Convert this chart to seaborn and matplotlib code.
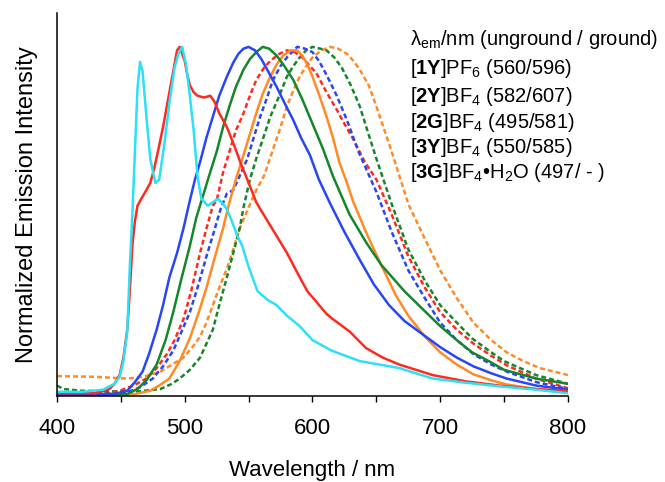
import matplotlib
matplotlib.use("Agg")
import matplotlib.pyplot as plt
import seaborn as sns

# ---------------------------------------------------------------- data ----
# unground (solid) and ground (dashed) emission spectra, normalized

wl_3G = [400, 420, 436, 445, 449, 452, 455, 457, 459, 461, 463, 465, 467, 470, 473,
         477, 480, 484, 488, 492, 495, 498, 501, 504, 507, 510, 513, 518, 522, 526,
         530, 533, 537, 541, 545, 550, 557, 565, 572, 580, 590, 600, 615, 637, 668,
         694, 720, 746, 775, 800]
em_3G = [0.012, 0.012, 0.018, 0.035, 0.055, 0.10, 0.185, 0.37, 0.52, 0.70, 0.88, 0.957,
         0.93, 0.80, 0.68, 0.61, 0.62, 0.72, 0.84, 0.94, 0.98, 1.0, 0.95, 0.86, 0.76,
         0.63, 0.565, 0.545, 0.555, 0.565, 0.55, 0.535, 0.50, 0.46, 0.43, 0.37, 0.30,
         0.275, 0.26, 0.23, 0.20, 0.16, 0.13, 0.10, 0.08, 0.05, 0.038, 0.028, 0.018, 0.008]

wl_2G = [400, 430, 441, 445, 449, 452, 455, 457, 459, 461, 463, 466, 470, 473, 476,
         479, 483, 487, 491, 494, 496, 498, 500, 502, 504, 507, 510, 515, 520, 523,
         527, 533, 539, 544, 549, 556, 560, 570, 580, 590, 596, 603, 611, 616, 629,
         642, 655, 668, 694, 720, 746, 775, 800]
em_2G = [0.008, 0.008, 0.02, 0.035, 0.06, 0.11, 0.19, 0.30, 0.43, 0.50, 0.545, 0.565,
         0.59, 0.61, 0.65, 0.70, 0.77, 0.85, 0.93, 0.99, 1.0, 0.98, 0.96, 0.92, 0.89,
         0.87, 0.86, 0.855, 0.86, 0.845, 0.81, 0.77, 0.715, 0.665, 0.62, 0.555, 0.53,
         0.47, 0.41, 0.34, 0.30, 0.27, 0.235, 0.22, 0.185, 0.137, 0.11, 0.09, 0.06,
         0.042, 0.03, 0.02, 0.014]

wl_3Y = [400, 445, 455, 461, 467, 472, 478, 483, 488, 494, 499, 504, 508, 512, 517,
         522, 527, 533, 538, 542, 546, 550, 555, 560, 566, 572, 578, 585, 591, 598,
         605, 614, 625, 637, 648, 660, 672, 685, 700, 713, 726, 740, 752, 775, 800]
em_3Y = [0.005, 0.006, 0.015, 0.04, 0.07, 0.12, 0.19, 0.26, 0.34, 0.41, 0.48, 0.56,
         0.62, 0.67, 0.74, 0.80, 0.86, 0.915, 0.955, 0.98, 0.995, 1.0, 0.99, 0.965,
         0.925, 0.885, 0.84, 0.79, 0.74, 0.69, 0.62, 0.55, 0.47, 0.39, 0.32, 0.26,
         0.215, 0.18, 0.14, 0.11, 0.085, 0.065, 0.05, 0.03, 0.018]

wl_1Y = [400, 455, 463, 470, 478, 485, 491, 497, 504, 509, 514, 519, 525, 530, 535,
         540, 546, 551, 556, 561, 566, 572, 578, 585, 592, 600, 608, 616, 629, 642,
         654, 672, 686, 700, 713, 725, 738, 750, 775, 800]
em_1Y = [0.004, 0.006, 0.02, 0.045, 0.09, 0.16, 0.24, 0.33, 0.43, 0.51, 0.57, 0.63,
         0.70, 0.77, 0.83, 0.885, 0.935, 0.965, 0.985, 1.0, 0.995, 0.975, 0.945, 0.905,
         0.85, 0.78, 0.71, 0.63, 0.52, 0.44, 0.375, 0.30, 0.25, 0.20, 0.16, 0.125,
         0.10, 0.075, 0.05, 0.035]

wl_2Y = [400, 460, 473, 480, 488, 496, 504, 511, 517, 523, 530, 535, 540, 546, 551,
         556, 561, 567, 572, 577, 583, 588, 592, 596, 600, 605, 611, 616, 621, 627,
         632, 643, 654, 665, 675, 688, 700, 713, 726, 740, 752, 775, 800]
em_2Y = [0.004, 0.005, 0.015, 0.03, 0.05, 0.10, 0.165, 0.24, 0.31, 0.39, 0.48, 0.555,
         0.62, 0.69, 0.75, 0.81, 0.865, 0.915, 0.95, 0.975, 0.99, 0.99, 0.975, 0.95,
         0.915, 0.865, 0.80, 0.74, 0.67, 0.61, 0.555, 0.46, 0.374, 0.29, 0.23, 0.17,
         0.125, 0.09, 0.062, 0.045, 0.033, 0.02, 0.013]

wl_2G_gr = [400, 440, 449, 460, 470, 478, 486, 492, 499, 505, 512, 517, 522, 525, 530,
            535, 540, 546, 551, 556, 562, 567, 574, 580, 586, 592, 598, 603, 611, 619,
            625, 632, 641, 650, 662, 675, 688, 700, 713, 726, 740, 752, 775, 800]
em_2G_gr = [0.006, 0.008, 0.015, 0.03, 0.05, 0.08, 0.12, 0.16, 0.22, 0.30, 0.41, 0.48,
            0.545, 0.56, 0.64, 0.70, 0.76, 0.81, 0.86, 0.905, 0.94, 0.96, 0.98, 0.99,
            0.985, 0.97, 0.945, 0.925, 0.87, 0.82, 0.78, 0.735, 0.67, 0.62, 0.52, 0.40,
            0.31, 0.24, 0.19, 0.15, 0.115, 0.088, 0.05, 0.022]

wl_3Y_gr = [400, 445, 455, 465, 475, 483, 491, 497, 504, 510, 517, 522, 528, 533, 538,
            543, 549, 554, 559, 564, 569, 575, 580, 588, 594, 600, 605, 611, 619, 627,
            636, 650, 662, 675, 688, 700, 713, 726, 740, 752, 775, 800]
em_3Y_gr = [0.005, 0.006, 0.01, 0.025, 0.05, 0.085, 0.13, 0.18, 0.24, 0.31, 0.40, 0.46,
            0.535, 0.58, 0.59, 0.63, 0.68, 0.74, 0.80, 0.85, 0.905, 0.945, 0.97, 1.0,
            0.995, 0.985, 0.96, 0.92, 0.86, 0.79, 0.70, 0.585, 0.47, 0.36, 0.28, 0.21,
            0.16, 0.12, 0.09, 0.07, 0.04, 0.02]

wl_1Y_gr = [400, 405, 420, 460, 481, 490, 496, 504, 512, 517, 522, 527, 533, 538, 543,
            546, 551, 556, 562, 567, 574, 580, 585, 590, 595, 600, 606, 611, 617, 623,
            630, 637, 643, 650, 662, 675, 688, 700, 713, 725, 738, 750, 775, 800]
em_1Y_gr = [0.03, 0.02, 0.015, 0.012, 0.02, 0.035, 0.05, 0.075, 0.11, 0.15, 0.19, 0.26,
            0.34, 0.41, 0.48, 0.54, 0.62, 0.68, 0.745, 0.80, 0.86, 0.915, 0.945, 0.97,
            0.99, 1.0, 0.995, 0.99, 0.97, 0.94, 0.89, 0.83, 0.76, 0.68, 0.55, 0.42,
            0.33, 0.26, 0.21, 0.165, 0.13, 0.10, 0.06, 0.035]

wl_2Y_gr = [400, 430, 455, 468, 481, 490, 499, 506, 512, 517, 522, 527, 533, 538, 543,
            550, 556, 562, 569, 575, 580, 585, 590, 595, 600, 607, 614, 620, 627, 632,
            637, 644, 650, 662, 675, 688, 700, 713, 726, 740, 752, 765, 778, 800]
em_2Y_gr = [0.057, 0.055, 0.05, 0.055, 0.07, 0.09, 0.11, 0.14, 0.17, 0.21, 0.26, 0.31,
            0.365, 0.42, 0.48, 0.54, 0.59, 0.63, 0.705, 0.77, 0.83, 0.875, 0.915, 0.945,
            0.97, 0.99, 1.0, 0.995, 0.98, 0.96, 0.935, 0.89, 0.83, 0.70, 0.55, 0.45,
            0.36, 0.28, 0.21, 0.16, 0.125, 0.10, 0.08, 0.06]

labels = [r"[$\mathbf{1Y}$]PF$_6$ (560/596)",
          r"[$\mathbf{2Y}$]BF$_4$ (582/607)",
          r"[$\mathbf{2G}$]BF$_4$ (495/581)",
          r"[$\mathbf{3Y}$]BF$_4$ (550/585)",
          r"[$\mathbf{3G}$]BF$_4$•H$_2$O (497/ - )"]

RED, BLUE, GREEN, ORANGE, CYAN = "#ff2a1f", "#2846f5", "#15872b", "#ff8a26", "#2ce0f5"

# -------------------------------------------------------------- plotting ---
sns.set_style("white")
plt.rcParams["font.family"] = ["Liberation Sans", "DejaVu Sans"]
plt.rcParams["mathtext.fontset"] = "custom"
plt.rcParams["mathtext.rm"] = "Liberation Sans"
plt.rcParams["mathtext.bf"] = "Liberation Sans:bold"
plt.rcParams["mathtext.it"] = "Liberation Sans:italic"
plt.rcParams["text.color"] = "black"
plt.rcParams["axes.labelcolor"] = "black"
plt.rcParams["xtick.color"] = "black"

fig = plt.figure(figsize=(6.65, 4.82), dpi=100)
ax = fig.add_axes([0.0857, 0.1784, 0.7684, 0.7946])

dash = (0, (2.0, 1.2))
series = [
    (wl_2Y_gr, em_2Y_gr, ORANGE, dash),
    (wl_1Y_gr, em_1Y_gr, GREEN, dash),
    (wl_2G_gr, em_2G_gr, RED, dash),
    (wl_3Y_gr, em_3Y_gr, BLUE, dash),
    (wl_2Y, em_2Y, ORANGE, "-"),
    (wl_1Y, em_1Y, GREEN, "-"),
    (wl_3Y, em_3Y, BLUE, "-"),
    (wl_2G, em_2G, RED, "-"),
    (wl_3G, em_3G, CYAN, "-"),
]
for wl, em, col, ls in series:
    sns.lineplot(x=wl, y=em, ax=ax, color=col, linestyle=ls, linewidth=1.8, sort=False)

ax.set_xlim(400, 800)
ax.set_ylim(0, 1.097)
ax.set_xticks([400, 500, 600, 700, 800])
ax.set_xticks([450, 550, 650, 750], minor=True)
ax.set_yticks([])
ax.tick_params(axis="x", which="both", direction="out", length=4, width=1,
               color="black", labelcolor="black", bottom=True, labelsize=16, pad=12)
for s in ["top", "right"]:
    ax.spines[s].set_visible(False)
for s in ["left", "bottom"]:
    ax.spines[s].set_color("black")
    ax.spines[s].set_linewidth(1.1)

ax.set_xlabel("Wavelength / nm", fontsize=16, labelpad=15)
ax.set_ylabel("Normalized Emission Intensity", fontsize=17, labelpad=14)

# annotation block
fig.text(410 / 665, 1 - 45 / 482, r"λ$_{\mathrm{em}}$/nm (unground / ground)",
         fontsize=14.5, va="baseline", ha="left")
ys = [74, 102, 128, 153, 178]
for y, t in zip(ys, labels):
    fig.text(410 / 665, 1 - y / 482, t, fontsize=14.5, va="baseline", ha="left")

fig.savefig("out.png", dpi=100)
